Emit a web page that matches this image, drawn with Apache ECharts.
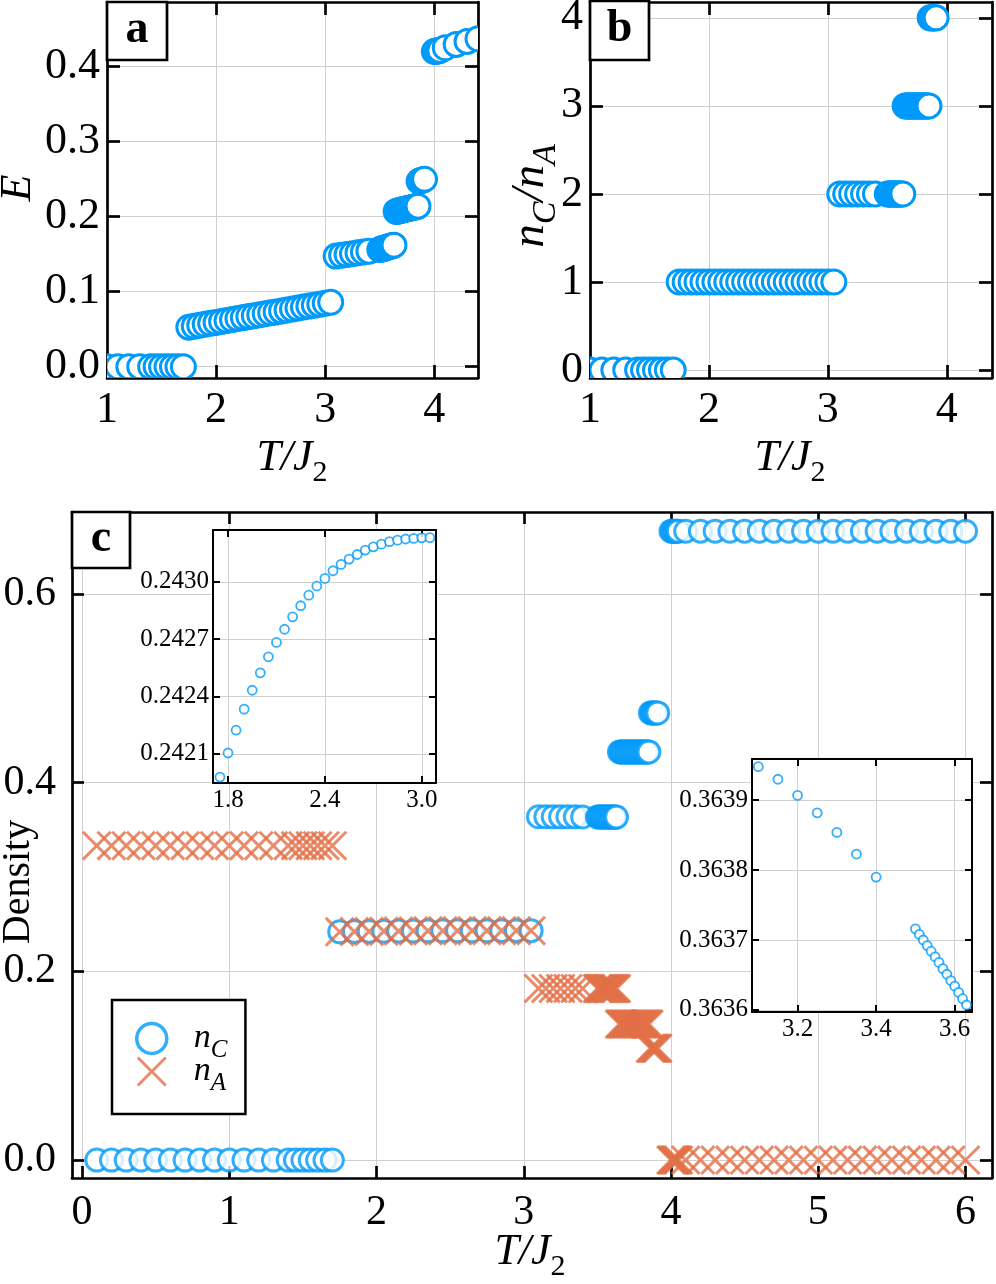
<!DOCTYPE html>
<html>
<head>
<meta charset="utf-8">
<script src="https://cdn.jsdelivr.net/npm/echarts@6/dist/echarts.min.js"></script>
<style>
html, body { margin: 0; padding: 0; background: #fff; }
#chart { width: 996px; height: 1284px; }
</style>
</head>
<body>
<div id="chart"></div>
<script>
const BLUE = '#009AFA';
const ORANGE = '#E26F46';
const SERIF = '"Liberation Serif", "DejaVu Serif", serif';
const CROSS = 'path://M0,7L7,0L50,43L93,0L100,7L57,50L100,93L93,100L50,57L7,100L0,93L43,50Z';

// temperatures T/J2, one list per phase
const tLow = [0.1, 0.2, 0.3, 0.4, 0.5, 0.6, 0.7, 0.8, 0.9, 1.0, 1.1, 1.2, 1.3, 1.4, 1.45, 1.5, 1.55, 1.6, 1.65, 1.7];
const tLowAB = [1.0, 1.1, 1.2, 1.3, 1.4, 1.45, 1.5, 1.55, 1.6, 1.65, 1.7];
const tPh1 = [1.75, 1.8, 1.85, 1.9, 1.95, 2.0, 2.05, 2.1, 2.15, 2.2, 2.25, 2.3, 2.35, 2.4, 2.45, 2.5, 2.55, 2.6, 2.65, 2.7, 2.75, 2.8, 2.85, 2.9, 2.95, 3.0, 3.05];
const tPh1Coarse = [1.75, 1.85, 1.95, 2.05, 2.15, 2.25, 2.35, 2.45, 2.55, 2.65, 2.75, 2.85, 2.95, 3.05];
const tPh2 = [3.1, 3.15, 3.2, 3.25, 3.3, 3.35, 3.4, 3.5, 3.51, 3.52, 3.53, 3.54, 3.55, 3.56, 3.57, 3.58, 3.59, 3.6, 3.61, 3.62, 3.63];
const tPh3 = [3.65, 3.66, 3.67, 3.68, 3.69, 3.7, 3.71, 3.72, 3.73, 3.74, 3.75, 3.76, 3.77, 3.78, 3.79, 3.8, 3.81, 3.82, 3.83, 3.84, 3.85];
const tPh4 = [3.86, 3.87, 3.88, 3.89, 3.9, 3.91];
const tPh5 = [4.0, 4.01, 4.02, 4.03, 4.04, 4.05, 4.1, 4.2, 4.3, 4.4, 4.5, 4.6, 4.7, 4.8, 4.9, 5.0, 5.1, 5.2, 5.3, 5.4, 5.5, 5.6, 5.7, 5.8, 5.9, 6.0];
const tPh5E = [4.0, 4.01, 4.02, 4.03, 4.04, 4.05, 4.1, 4.2, 4.3, 4.4];

// panel a: E
const eLow = [0, 0, 0, 0, 0, 0, 0, 0, 0, 0, 0];
const ePh1 = [0.0527, 0.0540, 0.0553, 0.0566, 0.0579, 0.0591, 0.0604, 0.0617, 0.0629, 0.0642, 0.0655, 0.0668, 0.0680, 0.0693, 0.0706, 0.0719, 0.0731, 0.0744, 0.0757, 0.0770, 0.0783, 0.0795, 0.0808, 0.0821, 0.0834, 0.0846, 0.0859];
const ePh2 = [0.1474, 0.1485, 0.1496, 0.1507, 0.1518, 0.1529, 0.1540, 0.1562, 0.1566, 0.1571, 0.1575, 0.1580, 0.1584, 0.1589, 0.1593, 0.1598, 0.1602, 0.1607, 0.1611, 0.1616, 0.1620];
const ePh3 = [0.2070, 0.2073, 0.2077, 0.2080, 0.2084, 0.2087, 0.2091, 0.2094, 0.2098, 0.2101, 0.2105, 0.2108, 0.2112, 0.2115, 0.2119, 0.2122, 0.2126, 0.2129, 0.2133, 0.2136, 0.2140];
const ePh4 = [0.2472, 0.2477, 0.2483, 0.2488, 0.2493, 0.2498];
const ePh5 = [0.4200, 0.4203, 0.4206, 0.4209, 0.4212, 0.4215, 0.4250, 0.4295, 0.4335, 0.4370];

// panel b: nC / nA
const rLow = [0, 0, 0, 0, 0, 0, 0, 0, 0, 0, 0];
const rPh1 = [1, 1, 1, 1, 1, 1, 1, 1, 1, 1, 1, 1, 1, 1, 1, 1, 1, 1, 1, 1, 1, 1, 1, 1, 1, 1, 1];
const rPh2 = [2, 2, 2, 2, 2, 2, 2, 2, 2, 2, 2, 2, 2, 2, 2, 2, 2, 2, 2, 2, 2];
const rPh3 = [3, 3, 3, 3, 3, 3, 3, 3, 3, 3, 3, 3, 3, 3, 3, 3, 3, 3, 3, 3, 3];
const rPh4 = [4, 4, 4, 4, 4, 4];

// panel c: densities
const nCLow = [0, 0, 0, 0, 0, 0, 0, 0, 0, 0, 0, 0, 0, 0, 0, 0, 0, 0, 0, 0];
const nALow = [0.3333, 0.3333, 0.3333, 0.3333, 0.3333, 0.3333, 0.3333, 0.3333, 0.3333, 0.3333, 0.3333, 0.3333, 0.3333, 0.3333, 0.3333, 0.3333, 0.3333, 0.3333, 0.3333, 0.3333];
const nCPh1 = [0.241979, 0.242105, 0.242224, 0.242334, 0.242433, 0.242524, 0.242608, 0.242683, 0.242752, 0.242817, 0.242875, 0.242930, 0.242978, 0.243018, 0.243058, 0.243091, 0.243119, 0.243143, 0.243166, 0.243183, 0.243197, 0.243210, 0.243218, 0.243224, 0.243227, 0.243230, 0.243231];
const nCPh1Coarse = [0.241979, 0.242224, 0.242433, 0.242608, 0.242752, 0.242875, 0.242978, 0.243058, 0.243119, 0.243166, 0.243197, 0.243218, 0.243227, 0.243231];
const nAPh1Coarse = [0.241979, 0.242224, 0.242433, 0.242608, 0.242752, 0.242875, 0.242978, 0.243058, 0.243119, 0.243166, 0.243197, 0.243218, 0.243227, 0.243231];
const nCPh2 = [0.363948, 0.363930, 0.363907, 0.363882, 0.363854, 0.363823, 0.363790, 0.363716, 0.363708, 0.363700, 0.363692, 0.363684, 0.363676, 0.363668, 0.363659, 0.363651, 0.363642, 0.363634, 0.363625, 0.363616, 0.363607];
const nAPh2 = [0.181974, 0.181965, 0.181954, 0.181941, 0.181927, 0.181912, 0.181895, 0.181858, 0.181854, 0.181850, 0.181846, 0.181842, 0.181838, 0.181834, 0.181830, 0.181826, 0.181821, 0.181817, 0.181813, 0.181808, 0.181804];
const nCPh3 = [0.4327, 0.4327, 0.4327, 0.4327, 0.4327, 0.4327, 0.4327, 0.4327, 0.4327, 0.4327, 0.4327, 0.4327, 0.4327, 0.4327, 0.4327, 0.4327, 0.4327, 0.4327, 0.4327, 0.4327, 0.4327];
const nAPh3 = [0.1442, 0.1442, 0.1442, 0.1442, 0.1442, 0.1442, 0.1442, 0.1442, 0.1442, 0.1442, 0.1442, 0.1442, 0.1442, 0.1442, 0.1442, 0.1442, 0.1442, 0.1442, 0.1442, 0.1442, 0.1442];
const nCPh4 = [0.474, 0.474, 0.474, 0.474, 0.474, 0.474];
const nAPh4 = [0.1185, 0.1185, 0.1185, 0.1185, 0.1185, 0.1185];
const nCPh5 = [0.6667, 0.6667, 0.6667, 0.6667, 0.6667, 0.6667, 0.6667, 0.6667, 0.6667, 0.6667, 0.6667, 0.6667, 0.6667, 0.6667, 0.6667, 0.6667, 0.6667, 0.6667, 0.6667, 0.6667, 0.6667, 0.6667, 0.6667, 0.6667, 0.6667, 0.6667];
const nAPh5 = [0, 0, 0, 0, 0, 0, 0, 0, 0, 0, 0, 0, 0, 0, 0, 0, 0, 0, 0, 0, 0, 0, 0, 0, 0, 0];

// tick values
const aXTicks = [1, 2, 3, 4];
const aYTicks = [0, 0.1, 0.2, 0.3, 0.4];
const bXTicks = [1, 2, 3, 4];
const bYTicks = [0, 1, 2, 3, 4];
const cXTicks = [0, 1, 2, 3, 4, 5, 6];
const cYTicks = [0, 0.2, 0.4, 0.6];
const in1XTicks = [1.8, 2.4, 3.0];
const in1YTicks = [0.2421, 0.2424, 0.2427, 0.2430];
const in2XTicks = [3.2, 3.4, 3.6];
const in2YTicks = [0.3636, 0.3637, 0.3638, 0.3639];

function pairs(xs, ys) {
    return xs.map((x, i) => [x, ys[i]]);
}

function axis(dim, gridIndex, range, ticks, s, primary, digits) {
    return {
        type: 'value',
        gridIndex: gridIndex,
        position: dim === 'x' ? (primary ? 'bottom' : 'top') : (primary ? 'left' : 'right'),
        min: range[0],
        max: range[1],
        z: s.z,
        axisLine: { show: true, onZero: false, lineStyle: { color: '#000', width: s.frame } },
        axisTick: { show: true, inside: true, length: s.tick, customValues: ticks,
                    lineStyle: { color: '#000', width: s.frame } },
        axisLabel: {
            show: primary,
            customValues: ticks,
            margin: dim === 'x' ? s.mx : s.my,
            color: '#000',
            fontFamily: SERIF,
            fontSize: s.font,
            formatter: v => Number(v).toFixed(digits),
        },
        splitLine: { show: primary, lineStyle: { color: '#d0d0d0', width: 1 } },
    };
}

function addPanel(option, gridIndex, xr, yr, xt, yt, s, xd, yd) {
    option.xAxis.push(axis('x', gridIndex, xr, xt, s, true, xd));
    option.xAxis.push(axis('x', gridIndex, xr, xt, s, false, xd));
    option.yAxis.push(axis('y', gridIndex, yr, yt, s, true, yd));
    option.yAxis.push(axis('y', gridIndex, yr, yt, s, false, yd));
}

function ringSeries(axisIndex, data) {
    return {
        type: 'custom',
        xAxisIndex: axisIndex,
        yAxisIndex: axisIndex,
        clip: true,
        data: data,
        encode: { x: 0, y: 1 },
        renderItem: function (params, api) {
            let p = api.coord([api.value(0), api.value(1)]);
            return {
                type: 'circle',
                shape: { cx: p[0], cy: p[1], r: 12 },
                style: { fill: '#fff', stroke: BLUE, lineWidth: 3 },
            };
        },
    };
}

function label(x, y, text, rot, rich) {
    return {
        type: 'text', x: x, y: y, rotation: rot, z: 30,
        style: { text: text, rich: rich, align: 'center', verticalAlign: 'middle', fill: '#000' },
    };
}

function panelTag(x, y, w, h, letter) {
    return [
        { type: 'rect', z: 30, shape: { x: x, y: y, width: w, height: h },
          style: { fill: '#fff', stroke: '#000', lineWidth: 2.7 } },
        { type: 'text', z: 31, x: x + w / 2, y: y + h / 2 - 1,
          style: { text: letter, font: 'bold 46px ' + SERIF, align: 'center', verticalAlign: 'middle', fill: '#000' } },
    ];
}

function getOption() {
    const mainStyle = { z: 0, frame: 2.7, tick: 13, font: 44, mx: 10, my: 7 };
    const cStyle = { z: 0, frame: 2.7, tick: 12, font: 42, mx: 14, my: 16 };
    const insetStyle = { z: 4, frame: 2, tick: 7, font: 25, mx: 5, my: 4 };

    let option = {
        animation: false,
        backgroundColor: '#fff',
        grid: [
            { left: 107, top: 2, width: 371, height: 376, outerBoundsMode: 'none' },
            { left: 590, top: 2, width: 402, height: 376, outerBoundsMode: 'none' },
            { left: 72, top: 512, width: 920, height: 666, outerBoundsMode: 'none' },
            { left: 213, top: 530, width: 223, height: 253, outerBoundsMode: 'none',
              show: true, backgroundColor: '#fff', borderWidth: 0, z: 3 },
            { left: 752, top: 759, width: 220, height: 253, outerBoundsMode: 'none',
              show: true, backgroundColor: '#fff', borderWidth: 0, z: 3 },
        ],
        xAxis: [],
        yAxis: [],
        series: [],
    };

    addPanel(option, 0, [1, 4.4], [-0.015, 0.486], aXTicks, aYTicks, mainStyle, 0, 1);
    addPanel(option, 1, [1, 4.38], [-0.09, 4.18], bXTicks, bYTicks, mainStyle, 0, 0);
    addPanel(option, 2, [-0.068, 6.18], [-0.019, 0.687], cXTicks, cYTicks, cStyle, 0, 1);
    addPanel(option, 3, [1.707, 3.088], [0.241948, 0.243271], in1XTicks, in1YTicks, insetStyle, 1, 4);
    addPanel(option, 4, [3.084, 3.644], [0.363597, 0.363959], in2XTicks, in2YTicks, insetStyle, 1, 4);

    // panel a
    option.series.push(ringSeries(0, [].concat(
        pairs(tLowAB, eLow), pairs(tPh1, ePh1), pairs(tPh2, ePh2),
        pairs(tPh3, ePh3), pairs(tPh4, ePh4), pairs(tPh5E, ePh5))));
    // panel b
    option.series.push(ringSeries(2, [].concat(
        pairs(tLowAB, rLow), pairs(tPh1, rPh1), pairs(tPh2, rPh2),
        pairs(tPh3, rPh3), pairs(tPh4, rPh4))));

    // panel c
    option.series.push({
        type: 'scatter', name: 'n_C', xAxisIndex: 4, yAxisIndex: 4,
        symbol: 'circle', symbolSize: 22,
        itemStyle: { color: '#fff', borderColor: BLUE, borderWidth: 3 },
        data: [].concat(pairs(tLow, nCLow), pairs(tPh1Coarse, nCPh1Coarse), pairs(tPh2, nCPh2),
                        pairs(tPh3, nCPh3), pairs(tPh4, nCPh4), pairs(tPh5, nCPh5)),
    });
    option.series.push({
        type: 'scatter', name: 'n_A', xAxisIndex: 4, yAxisIndex: 4,
        symbol: CROSS, symbolSize: 30,
        itemStyle: { color: ORANGE, borderWidth: 0 },
        data: [].concat(pairs(tLow, nALow), pairs(tPh1Coarse, nAPh1Coarse), pairs(tPh2, nAPh2),
                        pairs(tPh3, nAPh3), pairs(tPh4, nAPh4), pairs(tPh5, nAPh5)),
    });

    // insets
    option.series.push({
        type: 'scatter', name: 'inset1', xAxisIndex: 6, yAxisIndex: 6, z: 5,
        symbol: 'circle', symbolSize: 9,
        itemStyle: { color: '#fff', borderColor: BLUE, borderWidth: 1.8 },
        data: pairs(tPh1, nCPh1),
    });
    option.series.push({
        type: 'scatter', name: 'inset2', xAxisIndex: 8, yAxisIndex: 8, z: 5,
        symbol: 'circle', symbolSize: 9,
        itemStyle: { color: '#fff', borderColor: BLUE, borderWidth: 1.8 },
        data: pairs(tPh2, nCPh2),
    });

    option.legend = {
        left: 112, top: 1000, orient: 'vertical',
        selectedMode: false,
        backgroundColor: '#fff', borderColor: '#000', borderWidth: 2.5, borderRadius: 0,
        padding: [14, 18, 18, 23],
        itemWidth: 30, itemHeight: 30, itemGap: -16,
        data: [
            { name: 'n_C', icon: 'circle', itemStyle: { color: '#fff', borderColor: BLUE, borderWidth: 3.5 } },
            { name: 'n_A', icon: CROSS, itemStyle: { color: ORANGE, borderWidth: 0 } },
        ],
        formatter: name => '{n|n}{s|' + name.split('_')[1] + '}',
        textStyle: {
            color: '#000',
            rich: {
                n: { color: '#000', fontFamily: SERIF, fontStyle: 'italic', fontSize: 34, lineHeight: 20, padding: [0, 0, 0, 22] },
                s: { color: '#000', fontFamily: SERIF, fontStyle: 'italic', fontSize: 25, lineHeight: 10, padding: [24, 0, 0, 0] },
            },
        },
    };

    const it = { fontFamily: SERIF, fontStyle: 'italic', fontSize: 44, lineHeight: 30 };
    const itBig = { fontFamily: SERIF, fontStyle: 'italic', fontSize: 47, lineHeight: 30 };
    const sub = { fontFamily: SERIF, fontSize: 30, lineHeight: 20, padding: [30, 0, 0, 0] };
    const subIt = { fontFamily: SERIF, fontStyle: 'italic', fontSize: 34, lineHeight: 20, padding: [30, 0, 0, 0] };
    option.graphic = [].concat(
        panelTag(107, 2, 60, 58, 'a'),
        panelTag(590, 1, 59, 59, 'b'),
        panelTag(72, 512, 58, 56, 'c'),
        [
            label(18, 188, '{t|E}', Math.PI / 2, { t: it }),
            label(531, 196, '{t|n}{s|C}{t|/n}{s|A}', Math.PI / 2, { t: itBig, s: subIt }),
            label(292, 458, '{t|T/J}{s|2}', 0, { t: it, s: sub }),
            label(790, 458, '{t|T/J}{s|2}', 0, { t: it, s: sub }),
            label(530, 1252, '{t|T/J}{s|2}', 0, { t: it, s: sub }),
            label(18, 882, '{d|Density}', Math.PI / 2, { d: { fontFamily: SERIF, fontSize: 40 } }),
        ]
    );
    return option;
}

let myChart = echarts.init(document.getElementById('chart'));
myChart.setOption(getOption());
</script>
</body>
</html>
